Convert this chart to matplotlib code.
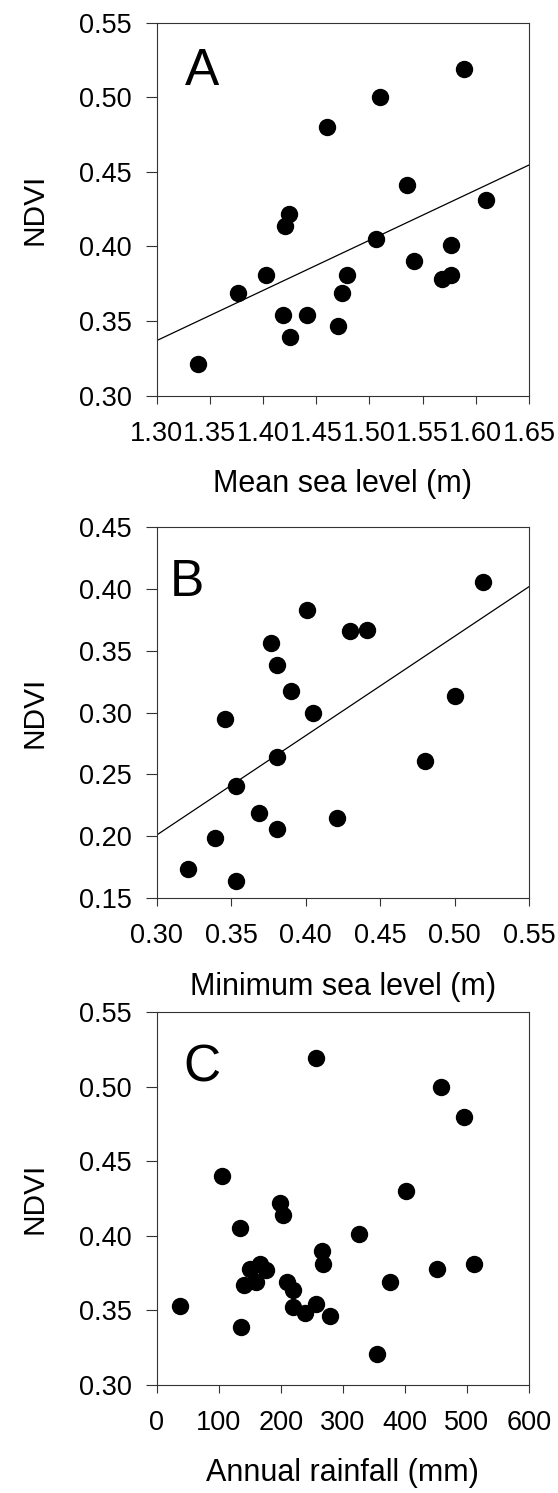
import numpy as np
import matplotlib
matplotlib.use("Agg")
import matplotlib.pyplot as plt
from matplotlib.ticker import FormatStrFormatter

plt.rcParams['font.family'] = ['Liberation Sans', 'DejaVu Sans']

# Panel A: mean sea level vs NDVI
msl_x = [1.339, 1.376, 1.403, 1.419, 1.425, 1.421, 1.424, 1.441, 1.460, 1.470, 1.474,
         1.479, 1.506, 1.510, 1.535, 1.542, 1.568, 1.577, 1.577, 1.589, 1.610]
msl_y = [0.321, 0.369, 0.381, 0.354, 0.339, 0.414, 0.422, 0.354, 0.480, 0.347, 0.369,
         0.381, 0.405, 0.500, 0.441, 0.390, 0.378, 0.381, 0.401, 0.519, 0.431]
msl_fit = (0.3363, -0.1003)

# Panel B: minimum sea level vs NDVI
min_x = [0.321, 0.339, 0.353, 0.353, 0.346, 0.369, 0.381, 0.381, 0.381, 0.377,
         0.390, 0.405, 0.401, 0.421, 0.430, 0.441, 0.480, 0.500, 0.519]
min_y = [0.174, 0.199, 0.164, 0.241, 0.295, 0.219, 0.206, 0.264, 0.338, 0.356,
         0.317, 0.300, 0.383, 0.215, 0.366, 0.367, 0.261, 0.313, 0.405]
min_fit = (0.802, -0.0395)

# Panel C: annual rainfall vs NDVI
rain_x = [37, 106, 134, 136, 141, 150, 160, 167, 176, 199, 203, 210, 220, 219,
          239, 257, 257, 266, 268, 279, 326, 355, 376, 402, 451, 458, 495, 512]
rain_y = [0.353, 0.440, 0.405, 0.339, 0.367, 0.378, 0.369, 0.381, 0.377, 0.422,
          0.414, 0.369, 0.364, 0.352, 0.348, 0.354, 0.519, 0.390, 0.381, 0.346,
          0.401, 0.321, 0.369, 0.430, 0.378, 0.500, 0.480, 0.381]

fig = plt.figure(figsize=(5.58, 14.93), dpi=100)

panels = [
    ([0.2808, 0.7350, 0.6672, 0.2498], msl_x, msl_y, msl_fit, (1.30, 1.65), np.arange(1.30, 1.651, 0.05),
     (0.30, 0.55), np.arange(0.30, 0.551, 0.05), '%.2f', 'Mean sea level (m)', 'A', (0.076, 0.833)),
    ([0.2808, 0.3983, 0.6672, 0.2489], min_x, min_y, min_fit, (0.30, 0.55), np.arange(0.30, 0.551, 0.05),
     (0.15, 0.45), np.arange(0.15, 0.451, 0.05), '%.2f', 'Minimum sea level (m)', 'B', (0.036, 0.814)),
    ([0.2808, 0.0723, 0.6672, 0.2498], rain_x, rain_y, None, (0, 600), np.arange(0, 601, 100),
     (0.30, 0.55), np.arange(0.30, 0.551, 0.05), '%d', 'Annual rainfall (mm)', 'C', (0.072, 0.813)),
]

for rect, xs, ys, fit, xlim, xticks, ylim, yticks, xfmt, xlabel, letter, lpos in panels:
    ax = fig.add_axes(rect)
    ax.plot(xs, ys, 'o', color='black', markersize=11.5, zorder=3)
    if fit is not None:
        lx = np.array(xlim)
        ax.plot(lx, fit[0] * lx + fit[1], color='black', linewidth=0.9)
    ax.set_xlim(xlim)
    ax.set_ylim(ylim)
    ax.set_xticks(xticks)
    ax.set_yticks(yticks)
    ax.xaxis.set_major_formatter(FormatStrFormatter(xfmt))
    ax.yaxis.set_major_formatter(FormatStrFormatter('%.2f'))
    ax.tick_params(axis='x', direction='out', length=6, width=0.8, labelsize=19.5, pad=12, color='#333333')
    ax.tick_params(axis='y', direction='out', length=8, width=0.8, labelsize=19.5, pad=10, color='#333333')
    for s in ax.spines.values():
        s.set_linewidth(0.8)
        s.set_color('#333333')
    ax.set_xlabel(xlabel, fontsize=22, labelpad=16)
    ax.set_ylabel('NDVI', fontsize=21.5, labelpad=22)
    ax.text(lpos[0], lpos[1], letter, transform=ax.transAxes, fontsize=37,
            ha='left', va='baseline')

plt.savefig("out.png", dpi=100)
